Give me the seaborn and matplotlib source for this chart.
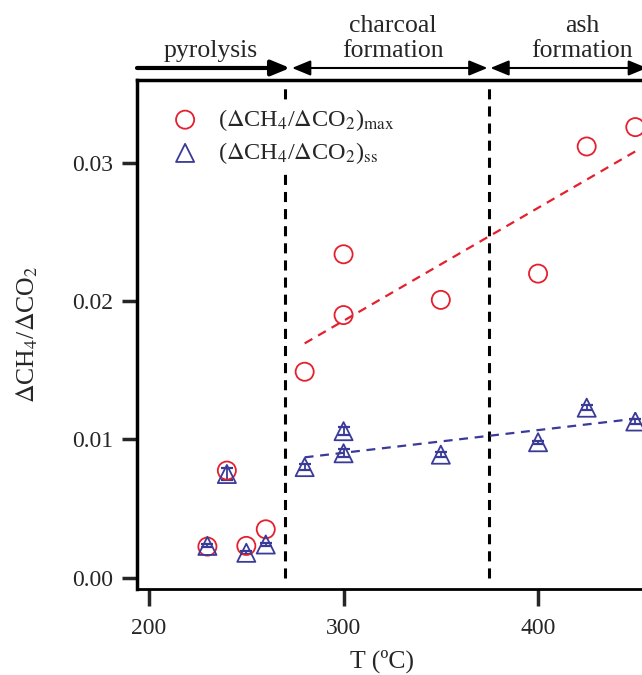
import matplotlib
matplotlib.use("Agg")
import matplotlib.pyplot as plt
import matplotlib.transforms as mtransforms
import numpy as np
import pandas as pd
import seaborn as sns

# Emission ratio vs. temperature
T_max = [230, 240, 250, 260, 280, 300, 300, 350, 400, 425, 450]
ratio_max = [0.00225, 0.00775, 0.0023, 0.0035, 0.0149, 0.0190, 0.0234, 0.0201, 0.0220, 0.0312, 0.0326]
T_ss = [230, 240, 250, 260, 280, 300, 300, 350, 400, 425, 450]
ratio_ss = [0.0023, 0.0075, 0.0018, 0.0024, 0.0080, 0.0106, 0.0090, 0.0089, 0.0098, 0.0123, 0.0113]
err_ss = [0.0001, 0.0004, 0.0001, 0.0001, 0.0002, 0.0003, 0.0003, 0.0002, 0.0001, 0.0002, 0.0002]

# Stage boundaries and labels
stage_bounds = [270, 375]
stage_labels = [("pyrolysis",), ("charcoal", "formation"), ("ash", "formation")]
fit_start = 280

x_ticks = [200, 300, 400]
y_ticks = [0.00, 0.01, 0.02, 0.03]

RED = "#e5202e"
BLUE = "#3a3a98"

sns.set_theme(style="ticks")
plt.rcParams["font.family"] = ["Liberation Serif", "DejaVu Serif"]
plt.rcParams["mathtext.fontset"] = "stix"
FS_TICK = 17
FS_LABEL = 18.5
FS_LEG = 17.5

df_max = pd.DataFrame({"T": T_max, "r": ratio_max})
df_ss = pd.DataFrame({"T": T_ss, "r": ratio_ss, "e": err_ss})

fig = plt.figure(figsize=(6.42, 6.75), dpi=100)
xmin, xmax = 193.8, 462
ymin, ymax = -0.00082, 0.03601
px_per_unit = 1.945
ax = fig.add_axes([137 / 642, 86 / 675, (xmax - xmin) * px_per_unit / 642, 509 / 675])

# stage boundaries
ax.vlines(stage_bounds, 0.0, 0.0355, colors="black", linestyles=(0, (3.3, 2.3)), lw=2.2, zorder=1)

# linear fits over charcoal + ash stages
sns.regplot(data=df_max[df_max["T"] >= fit_start], x="T", y="r", scatter=False, ci=None,
            truncate=True, ax=ax, line_kws=dict(color=RED, lw=1.6, dashes=(4, 3)))
sns.regplot(data=df_ss[df_ss["T"] >= fit_start], x="T", y="r", scatter=False, ci=None,
            truncate=True, ax=ax, line_kws=dict(color=BLUE, lw=1.6, dashes=(4, 3)))

ax.errorbar(df_ss["T"], df_ss["r"], yerr=df_ss["e"], fmt="none", ecolor=BLUE,
            elinewidth=1.3, capsize=4, capthick=1.6, zorder=3)

sns.scatterplot(data=df_max, x="T", y="r", marker="o", s=170, fc="none", ec=RED,
                linewidth=1.3, ax=ax, zorder=4,
                label=r"($\Delta$CH$_4$/$\Delta$CO$_2$)$_{\rm max}$")
sns.scatterplot(data=df_ss, x="T", y="r", marker="^", s=170, fc="none", ec=BLUE,
                linewidth=1.3, ax=ax, zorder=4,
                label=r"($\Delta$CH$_4$/$\Delta$CO$_2$)$_{\rm ss}$")

ax.set_xlim(xmin, xmax)
ax.set_ylim(ymin, ymax)
ax.set_xticks(x_ticks)
ax.set_yticks(y_ticks)
ax.set_yticklabels([f"{v:.2f}" for v in y_ticks])
ax.tick_params(axis="both", labelsize=FS_TICK, width=2.5, direction="out")
ax.tick_params(axis="x", length=12, pad=9)
ax.tick_params(axis="y", length=11, pad=6)
for side in ["top", "left", "right"]:
    ax.spines[side].set_linewidth(2.5)
    ax.spines[side].set_color("black")
ax.spines["bottom"].set_linewidth(2)
ax.spines["bottom"].set_color("black")

ax.set_xlabel("T (ºC)", fontsize=FS_LABEL)
ax.set_ylabel(r"$\Delta$CH$_4$/$\Delta$CO$_2$", fontsize=FS_LABEL)
ax.xaxis.set_label_coords(0.47, -0.119)
ax.yaxis.set_label_coords(-0.186, 0.5)

leg = ax.legend(loc="upper left", bbox_to_anchor=(0.02, 0.985), fontsize=FS_LEG, frameon=True,
                facecolor="white", edgecolor="none", framealpha=1, handletextpad=0.6,
                labelspacing=0.3, borderpad=0.3, handlelength=1.5)
leg.set_zorder(2)

# stage arrows and names above the plot
trans = mtransforms.blended_transform_factory(ax.transData, ax.transAxes)
y_arrow = 1.0236
arrow_spans = [(xmin, 272.5, "-|>", 3.0), (273.5, 374.0, "<|-|>", 1.5), (375.5, 456.0, "<|-|>", 1.5)]
for x0, x1, style, lw in arrow_spans:
    ax.annotate("", xy=(x1, y_arrow), xytext=(x0, y_arrow), xycoords=trans, textcoords=trans,
                annotation_clip=False,
                arrowprops=dict(arrowstyle=style + ",head_length=0.8,head_width=0.33",
                                mutation_scale=14, lw=lw, color="black",
                                shrinkA=0, shrinkB=0))

label_x = [211, 393, 582]
for lines, px in zip(stage_labels, label_x):
    xc = xmin + (px - 137) / px_per_unit
    ax.text(xc, 1.0452, lines[-1], transform=trans, ha="center", va="baseline", fontsize=FS_LABEL,
            clip_on=False)
    if len(lines) > 1:
        ax.text(xc, 1.0943, lines[0], transform=trans, ha="center", va="baseline",
                fontsize=FS_LABEL, clip_on=False)

fig.savefig("out.png", dpi=100)
